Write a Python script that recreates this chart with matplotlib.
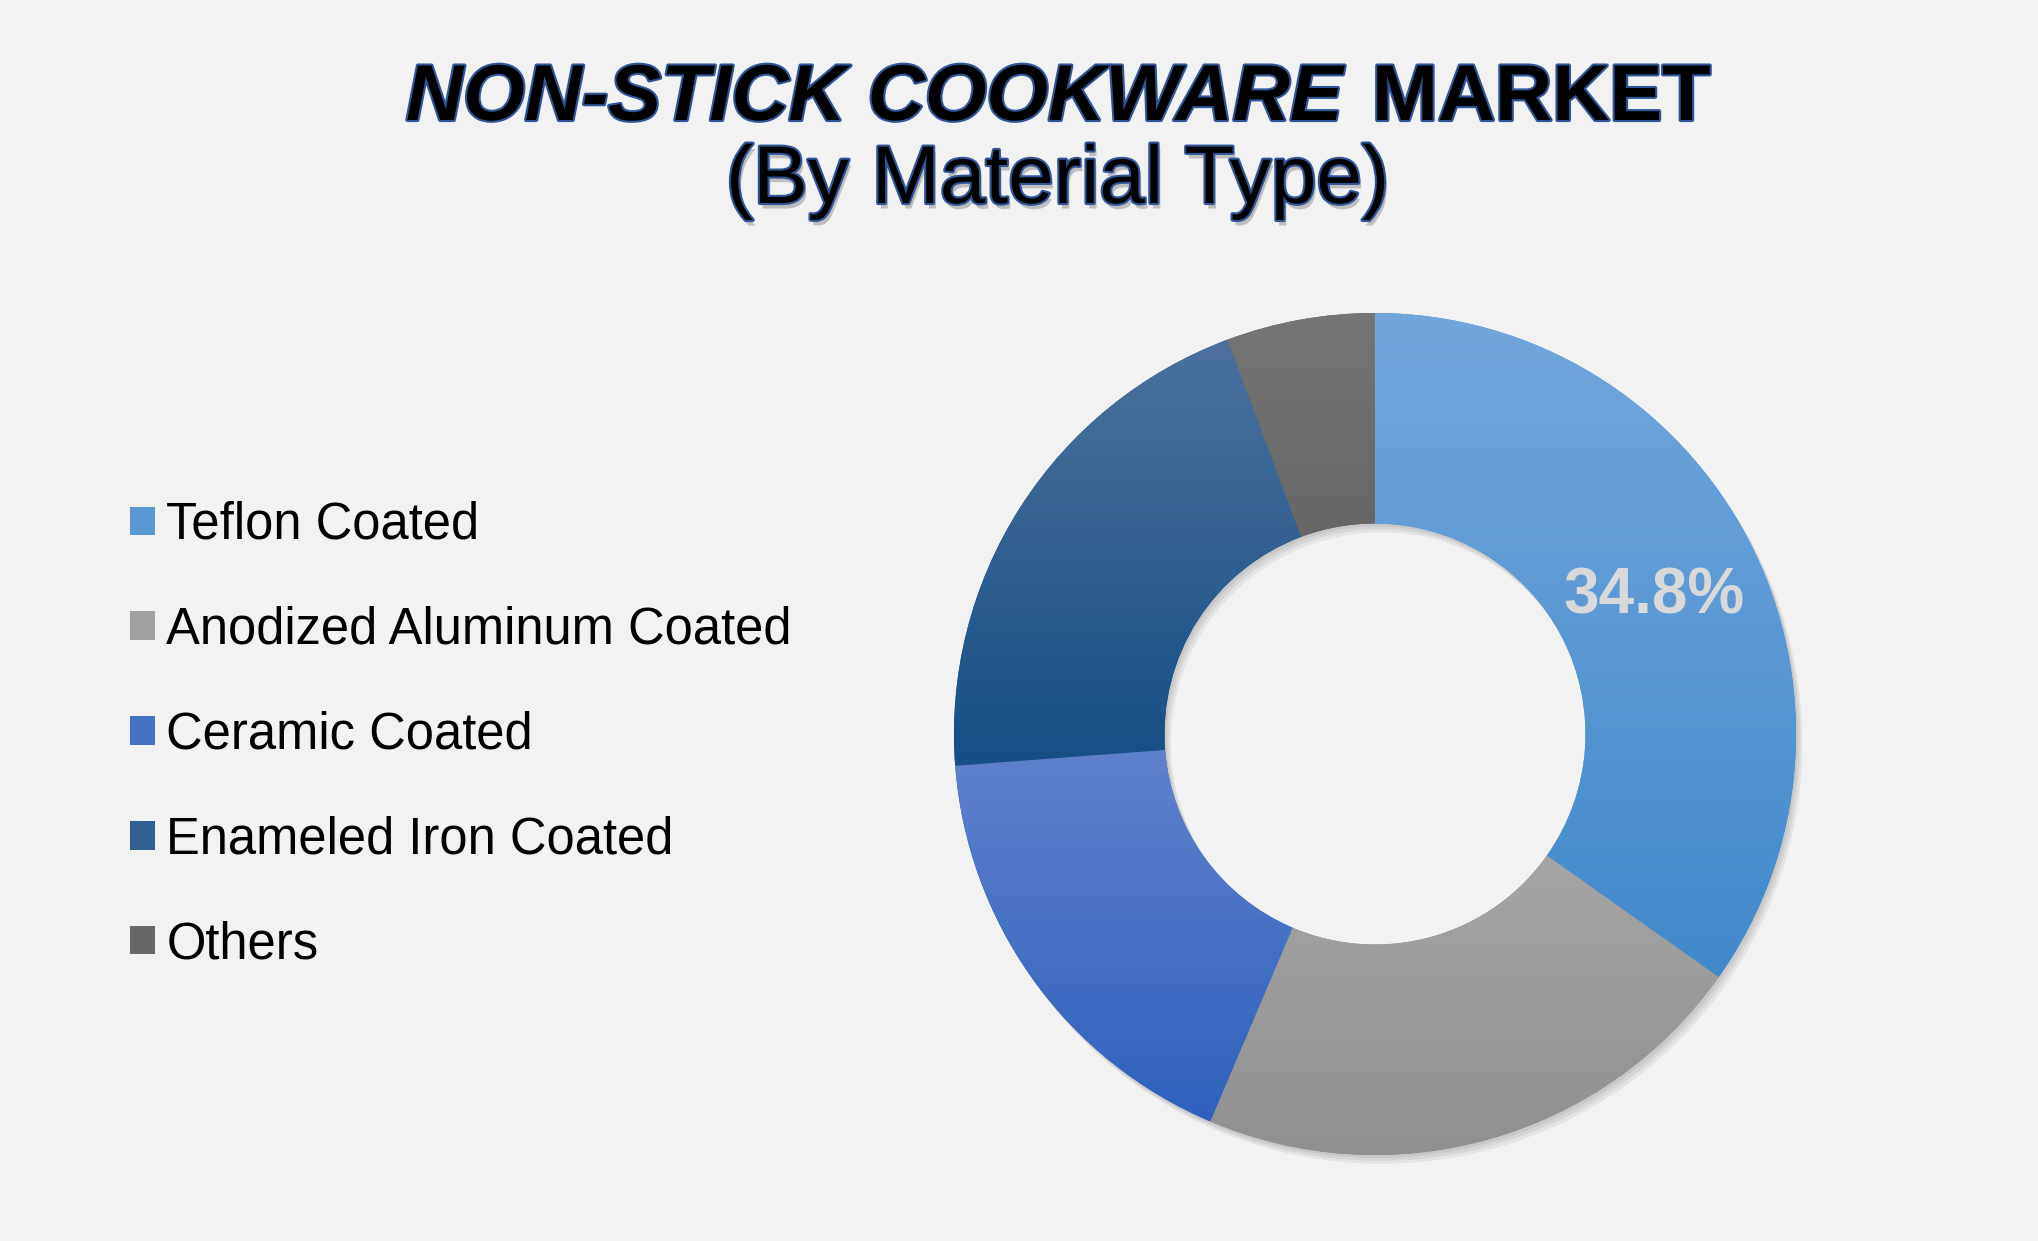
import numpy as np
import matplotlib.pyplot as plt
import matplotlib.patheffects as pe
from matplotlib.colors import LinearSegmentedColormap
from matplotlib.patches import Patch

plt.rcParams['font.family'] = ['Liberation Sans', 'DejaVu Sans']

# data
labels = ['Teflon Coated', 'Anodized Aluminum Coated', 'Ceramic Coated',
          'Enameled Iron Coated', 'Others']
shares = [34.8, 21.6, 17.4, 20.5, 5.7]

# gradient colours per slice (top, bottom)
top_colors = ['#72A7DD', '#AEAEAE', '#6283CE', '#4C719C', '#767676']
bottom_colors = ['#4189CB', '#8F8F8F', '#2E61BD', '#154F86', '#585858']
mid_colors = ['#5A98D4', '#A0A0A0', '#4672C6', '#2F6091', '#676767']

W, H = 2038, 1241
fig = plt.figure(figsize=(W / 100, H / 100), dpi=100, facecolor='#F2F2F2')

# donut axes: centre (1375, 734) px, radius 421 px
cx, cy, r = 1375, 734, 421
ax = fig.add_axes([(cx - r) / W, (H - cy - r) / H, 2 * r / W, 2 * r / H])
ax.set_facecolor('none')

# soft shadow behind the ring
for k in range(1, 4):
    ax.pie(shares, radius=1, startangle=90, counterclock=False,
           colors=['#000000'] * len(shares), center=(0.005 * k, -0.007 * k),
           wedgeprops=dict(width=0.5, linewidth=0, alpha=0.06))

def pct_label(p):
    return f'{p:.1f}%' if p > 30 else ''

wedges, texts, autotexts = ax.pie(
    shares, radius=1, startangle=90, counterclock=False,
    colors=bottom_colors, autopct=pct_label, pctdistance=0.745,
    wedgeprops=dict(width=0.5, linewidth=0),
    textprops=dict(color='#D9D9D9', fontsize=46, fontweight='bold'))

grad = np.linspace(0, 1, 256).reshape(-1, 1)
for w, c_top, c_bot in zip(wedges, top_colors, bottom_colors):
    verts = w.get_path().vertices
    x0, y0 = verts.min(axis=0)
    x1, y1 = verts.max(axis=0)
    cmap = LinearSegmentedColormap.from_list('g', [c_bot, c_top])
    ax.imshow(grad, extent=[x0, x1, y0, y1], origin='lower', cmap=cmap,
              aspect='auto', interpolation='bicubic', clip_path=w,
              zorder=w.get_zorder() + 0.1)

for t in autotexts:
    t.set_zorder(10)
    x, y = t.get_position()
    t.set_position((x, y - 0.015))

ax.set_xlim(-1, 1)
ax.set_ylim(-1, 1)
ax.set_aspect('equal')
ax.axis('off')

# legend on the left
handles = [Patch(facecolor=c, edgecolor='none') for c in mid_colors]
fig.legend(handles, labels, loc='center left',
           bbox_to_anchor=(130 / W, 1 - 735 / H), frameon=False,
           fontsize=36.5, handlelength=0.5, handleheight=0.5,
           handletextpad=0.22, labelspacing=1.1,
           borderpad=0, borderaxespad=0)

# title
outline = [pe.Stroke(linewidth=3, foreground='#2F5597'), pe.Normal()]
base1 = 1 - 120 / H
t1 = fig.text(0, base1, 'NON-STICK COOKWARE', fontsize=57, fontweight='bold',
              fontstyle='italic', ha='left', va='baseline', color='black',
              path_effects=outline)
t2 = fig.text(0, base1, 'MARKET', fontsize=57, fontweight='bold',
              ha='left', va='baseline', color='black', path_effects=outline)
renderer = fig.canvas.get_renderer()
w1 = t1.get_window_extent(renderer).width
w2 = t2.get_window_extent(renderer).width
gap = 30
start = 1058 - (w1 + gap + w2) / 2
t1.set_x(start / W)
t2.set_x((start + w1 + gap) / W)

shadow = [pe.SimplePatchShadow(offset=(2, -4), shadow_rgbFace='#7F7F7F', alpha=0.45),
          pe.Stroke(linewidth=3, foreground='#2F5597'), pe.Normal()]
fig.text(1058 / W, 1 - 203 / H, '(By Material Type)', fontsize=59,
         ha='center', va='baseline', color='black', path_effects=shadow)

fig.savefig('out.png', dpi=100, facecolor=fig.get_facecolor())
